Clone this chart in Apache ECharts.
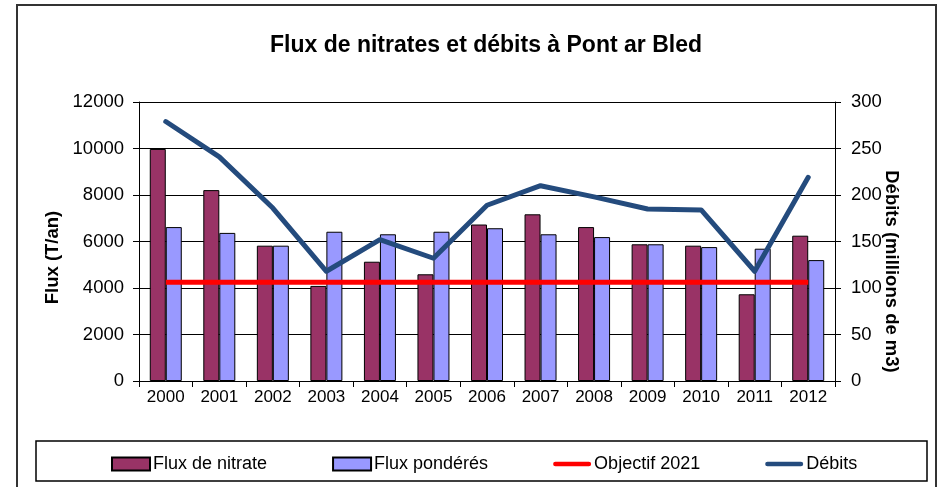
<!DOCTYPE html>
<html>
<head>
<meta charset="utf-8">
<script src="https://cdn.jsdelivr.net/npm/echarts@6/dist/echarts.min.js"></script>
<style>
  html, body { margin: 0; padding: 0; background: #fff; }
  #chart { width: 940px; height: 487px; }
</style>
</head>
<body>
<div id="chart"></div>
<script>
const years = ['2000', '2001', '2002', '2003', '2004', '2005', '2006', '2007', '2008', '2009', '2010', '2011', '2012'];
const fluxNitrate = [9980, 8210, 5820, 4090, 5130, 4590, 6730, 7170, 6620, 5880, 5820, 3730, 6250];
const fluxPonderes = [6620, 6370, 5820, 6420, 6310, 6420, 6570, 6310, 6190, 5880, 5760, 5690, 5200];
const objectif2021 = [4250, 4250, 4250, 4250, 4250, 4250, 4250, 4250, 4250, 4250, 4250, 4250, 4250];
const debits = [279, 241, 186, 118, 152, 132, 189, 210, 198, 185, 184, 118, 219];

const FONT = '"Liberation Sans", Arial, sans-serif';
// icône de légende pour les courbes : trait épais sans symbole
const LINE_ICON = 'path://M2.5,0 L39.5,0 A2.5,2.5 0 0 1 39.5,5 L2.5,5 A2.5,2.5 0 0 1 2.5,0 Z';

const chart = echarts.init(document.getElementById('chart'));
const option = {
    animation: false,
    backgroundColor: '#fff',
    title: {
        text: 'Flux de nitrates et débits à Pont ar Bled',
        left: 265,
        top: 29,
        textStyle: { fontFamily: FONT, fontSize: 23, fontWeight: 'bold', color: '#000' },
    },
    graphic: [
        // cadre du graphique
        { type: 'rect', shape: { x: 17, y: 5, width: 919, height: 500 }, style: { fill: 'none', stroke: '#333', lineWidth: 2 }, silent: true },
        // cadre de la légende
        { type: 'rect', shape: { x: 36, y: 441, width: 891, height: 40 }, style: { fill: 'none', stroke: '#000', lineWidth: 1.5 }, silent: true },
    ],
    legend: {
        left: 106,
        top: 450,
        itemWidth: 38,
        itemHeight: 13,
        itemGap: 65,
        textStyle: { fontFamily: FONT, fontSize: 18, color: '#000', padding: [0, 0, 0, -2] },
        data: [
            { name: 'Flux de nitrate', icon: 'rect' },
            { name: 'Flux pondérés', icon: 'rect' },
            { name: 'Objectif 2021', icon: LINE_ICON },
            { name: 'Débits', icon: LINE_ICON },
        ],
    },
    grid: { left: 139, right: 105, top: 102, bottom: 106 },
    xAxis: {
        type: 'category',
        data: years,
        axisLine: { lineStyle: { color: '#000', width: 1 } },
        axisTick: { show: true, length: 6, lineStyle: { color: '#000' } },
        axisLabel: { fontFamily: FONT, fontSize: 17, color: '#000', margin: 8 },
    },
    yAxis: [
        {
            type: 'value',
            min: 0,
            max: 12000,
            interval: 2000,
            name: 'Flux (T/an)',
            nameLocation: 'middle',
            nameRotate: 90,
            nameGap: 77,
            nameMoveOverlap: false,
            nameTextStyle: { fontFamily: FONT, fontSize: 18.5, fontWeight: 'bold', color: '#000', padding: [0, 32, 0, 0] },
            axisLine: { show: true, lineStyle: { color: '#000', width: 1 } },
            axisTick: { show: true, length: 6, lineStyle: { color: '#000' } },
            axisLabel: { fontFamily: FONT, fontSize: 18.5, color: '#000', margin: 15, formatter: v => String(v) },
            splitLine: { show: true, lineStyle: { color: '#000', width: 1 } },
        },
        {
            type: 'value',
            min: 0,
            max: 300,
            interval: 50,
            name: 'Débits (millions de m3)',
            nameLocation: 'middle',
            nameRotate: -90,
            nameGap: 47,
            nameMoveOverlap: false,
            nameTextStyle: { fontFamily: FONT, fontSize: 18.5, fontWeight: 'bold', color: '#000', padding: [0, 0, 0, 60] },
            axisLine: { show: true, lineStyle: { color: '#000', width: 1 } },
            axisTick: { show: true, length: 6, lineStyle: { color: '#000' } },
            axisLabel: { fontFamily: FONT, fontSize: 18.5, color: '#000', margin: 16 },
            splitLine: { show: false },
        },
    ],
    series: [
        {
            name: 'Flux de nitrate',
            type: 'bar',
            data: fluxNitrate,
            barWidth: 16,
            barGap: '0%',
            itemStyle: { color: '#993366', borderColor: '#000', borderWidth: 1 },
        },
        {
            name: 'Flux pondérés',
            type: 'bar',
            data: fluxPonderes,
            barWidth: 16,
            barGap: '0%',
            itemStyle: { color: '#9999FF', borderColor: '#000', borderWidth: 1 },
        },
        {
            name: 'Objectif 2021',
            type: 'line',
            data: objectif2021,
            symbol: 'none',
            lineStyle: { color: '#FF0000', width: 5 },
            itemStyle: { color: '#FF0000' },
        },
        {
            name: 'Débits',
            type: 'line',
            yAxisIndex: 1,
            data: debits,
            symbol: 'none',
            lineStyle: { color: '#244B7D', width: 5, cap: 'round', join: 'round' },
            itemStyle: { color: '#244B7D' },
        },
    ],
};
chart.setOption(option);
</script>
</body>
</html>
